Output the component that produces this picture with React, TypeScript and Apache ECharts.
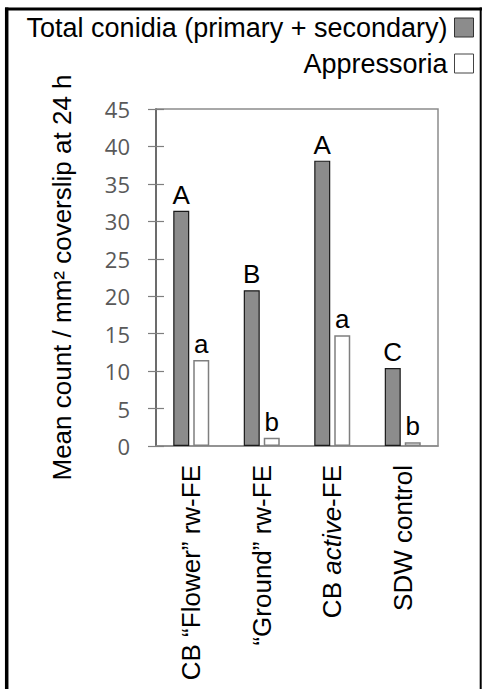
import React, { useEffect, useRef } from "react";
import * as echarts from "echarts";

const categories = ["CB “Flower” rw-FE", "“Ground” rw-FE", "CB {i|active}-FE", "SDW control"];
const conidiaValues = [31.4, 20.8, 38.1, 10.4];
const appressoriaValues = [11.5, 1.1, 14.8, 0.5];
const conidiaLetters = ["A", "B", "A", "C"];
const appressoriaLetters = ["a", "b", "a", "b"];
const seriesNames = ["Total conidia (primary + secondary)", "Appressoria"];
const yAxisName = "Mean count / mm² coverslip at 24 h";

const ARIAL = "'Liberation Sans', Arial, sans-serif";

export default function App() {
  const ref = useRef<HTMLDivElement>(null);
  useEffect(() => {
    if (!ref.current) return;
    const chart = echarts.init(ref.current, null, { renderer: "svg" });
    const legendBase = {
      orient: "vertical" as const,
      align: "right" as const,
      right: 8,
      itemWidth: 19,
      itemHeight: 19,
      icon: "rect",
      selectedMode: false,
      textStyle: { fontSize: 27, fontFamily: ARIAL, color: "#000", padding: [0, 2, 0, 0] },
      padding: 0,
      itemGap: 0,
    };
    chart.setOption({
      animation: false,
      backgroundColor: "#fff",
      legend: [
        {
          ...legendBase,
          top: 14,
          data: [seriesNames[0]],
          itemStyle: { color: "#8c8c8c", borderColor: "#333", borderWidth: 1 },
        },
        {
          ...legendBase,
          top: 50,
          data: [seriesNames[1]],
          itemStyle: { color: "#ffffff", borderColor: "#444", borderWidth: 1 },
        },
      ],
      grid: {
        left: 156,
        right: 44,
        top: 109,
        bottom: 243,
        show: true,
        borderColor: "#8c8c8c",
        borderWidth: 1.5,
        containLabel: false,
      },
      xAxis: {
        type: "category",
        data: categories,
        axisTick: { show: false },
        axisLine: { lineStyle: { color: "#8c8c8c", width: 1.5 } },
        axisLabel: {
          rotate: 90,
          fontSize: 26,
          fontFamily: ARIAL,
          color: "#000",
          margin: 19,
          interval: 0,
          rich: {
            i: { fontStyle: "italic", fontSize: 26, fontFamily: ARIAL, color: "#000" },
          },
        },
      },
      yAxis: [
        {
          type: "value",
          min: 0,
          max: 45,
          interval: 5,
          name: yAxisName,
          nameLocation: "middle",
          nameGap: 81,
          nameTextStyle: { fontSize: 26, fontFamily: ARIAL, color: "#000" },
          axisLine: { show: true, lineStyle: { color: "#595959", width: 1.5 } },
          axisTick: { show: true, length: 8, lineStyle: { color: "#7f7f7f", width: 1.2 } },
          axisLabel: { fontSize: 22, fontFamily: "'Open Sans', sans-serif", color: "#595959", margin: 26 },
          splitLine: { show: false },
        },
        {
          type: "value",
          position: "left",
          min: 0,
          max: 45,
          interval: 5,
          axisLine: { show: false },
          axisTick: { show: true, inside: true, length: 8, lineStyle: { color: "#7f7f7f", width: 1.2 } },
          axisLabel: { show: false },
          splitLine: { show: false },
        },
      ],
      series: [
        {
          name: seriesNames[0],
          type: "bar",
          data: conidiaValues,
          barWidth: 16,
          barGap: "25%",
          itemStyle: { color: "#8c8c8c", borderColor: "#1a1a1a", borderWidth: 1.2 },
          label: {
            show: true,
            position: "top",
            distance: 3,
            fontSize: 26,
            fontFamily: ARIAL,
            color: "#000",
            formatter: (p: any) => conidiaLetters[p.dataIndex],
          },
        },
        {
          name: seriesNames[1],
          type: "bar",
          data: appressoriaValues,
          barWidth: 16,
          barGap: "25%",
          itemStyle: { color: "#ffffff", borderColor: "#7f7f7f", borderWidth: 1.5 },
          label: {
            show: true,
            position: "top",
            distance: 3,
            fontSize: 26,
            fontFamily: ARIAL,
            color: "#000",
            formatter: (p: any) => appressoriaLetters[p.dataIndex],
          },
        },
      ],
      graphic: [
        { type: "line", shape: { x1: 6.7, y1: 7.5, x2: 6.7, y2: 700 }, style: { stroke: "#000", lineWidth: 3.5 } },
        { type: "line", shape: { x1: 5, y1: 9, x2: 482, y2: 9 }, style: { stroke: "#000", lineWidth: 3 } },
        { type: "line", shape: { x1: 480.7, y1: 7.5, x2: 480.7, y2: 700 }, style: { stroke: "#000", lineWidth: 2 } },
      ],
    });
    return () => chart.dispose();
  }, []);
  return (
    <div
      ref={ref}
      style={{ position: "fixed", left: 0, top: 0, width: 482, height: 689 }}
    />
  );
}
